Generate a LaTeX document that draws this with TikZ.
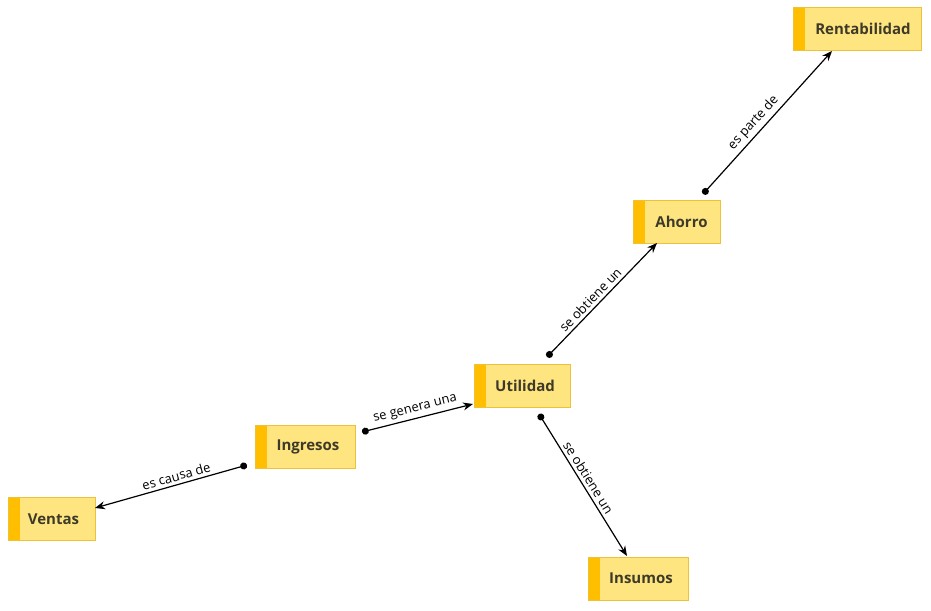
\documentclass[tikz,border=0pt]{standalone}
\usepackage{fontspec}
\setmainfont{Open Sans}
\usetikzlibrary{arrows.meta}
\definecolor{boxfill}{HTML}{FFE57F}
\definecolor{strip}{HTML}{FFBF00}
\definecolor{boxline}{HTML}{EEC13A}
\definecolor{txt}{HTML}{3D3A2A}
\tikzset{
  concept/.style={draw=boxline,line width=1pt,fill=boxfill,minimum height=43pt,inner sep=0pt,
    font=\fontsize{15}{17}\selectfont\bfseries,text=txt,
    path picture={\fill[strip] (path picture bounding box.north west) rectangle ([xshift=12pt]path picture bounding box.south west);}},
  link/.style={line width=1.2pt,{Circle[length=7pt]}-{Stealth[length=10pt,width=8pt]}},
  lab/.style={sloped,font=\fontsize{13}{15}\selectfont,text=black,inner sep=3pt}
}
\begin{document}
\begin{tikzpicture}[x=1pt,y=-1pt]
\useasboundingbox (0,0) rectangle (931,610);
\node[concept,minimum width=128pt] (rent) at (857,29) {\hspace*{12pt}Rentabilidad};
\node[concept,minimum width=87pt] (ahorro) at (676.5,221.5) {\hspace*{10pt}Ahorro};
\node[concept,minimum width=96pt] (util) at (522,385.5) {\hspace*{6pt}Utilidad};
\node[concept,minimum width=100pt] (ingr) at (305,447) {\hspace*{6pt}Ingresos};
\node[concept,minimum width=87pt] (vent) at (51.5,519) {\hspace*{4pt}Ventas};
\node[concept,minimum width=100pt] (insu) at (638,578.5) {\hspace*{6pt}Insumos};
\coordinate (a1) at (247,465); \coordinate (b1) at (95,508);
\coordinate (a2) at (362,432); \coordinate (b2) at (473,404);
\coordinate (a3) at (547,357); \coordinate (b3) at (657,243);
\coordinate (a4) at (703,194); \coordinate (b4) at (832,51);
\coordinate (a5) at (539,414); \coordinate (b5) at (627,556);
\draw[link] (a1) -- node[lab,above,pos=0.45] {es causa de} (b1);
\draw[link] (a2) -- node[lab,above] {se genera una} (b2);
\draw[link] (a3) -- node[lab,above,pos=0.45] {se obtiene un} (b3);
\draw[link] (a4) -- node[lab,above,pos=0.45] {es parte de} (b4);
\draw[link] (a5) -- node[lab,above,pos=0.48] {se obtiene un} (b5);
\end{tikzpicture}
\end{document}
